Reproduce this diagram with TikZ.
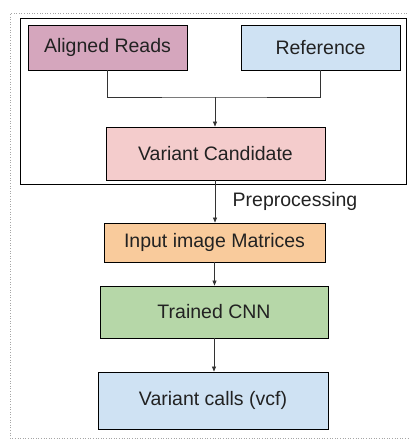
\documentclass[tikz,border=0pt]{standalone}
\usepackage{fontspec}
\setmainfont{Liberation Sans}
\usetikzlibrary{arrows.meta}
\definecolor{readsfill}{HTML}{D5A6BD}
\definecolor{blueish}{HTML}{CFE2F3}
\definecolor{candfill}{HTML}{F4CCCC}
\definecolor{matfill}{HTML}{F9CB9C}
\definecolor{cnnfill}{HTML}{B6D7A8}
\definecolor{inkgrey}{HTML}{222222}
\begin{document}
\begin{tikzpicture}[x=1pt,y=-1pt,
  stage/.style={draw=black, line width=0.9pt, inner sep=0pt, text=inkgrey,
    font=\fontsize{19.5}{22}\selectfont},
  link/.style={draw=black!80, line width=0.7pt},
  flow/.style={link, -{Triangle[length=5pt,width=4pt]}}]
  \useasboundingbox (0,0) rectangle (408,445);
  % dotted page frame (right side runs past the edge)
  \draw[gray!70, line width=0.6pt, dotted] (412,13) -- (10,13) -- (10,438) -- (412,438);
  % frame around the candidate-generation step
  \draw[black, line width=0.8pt] (20,18) rectangle (406,184);

  \node[stage, fill=readsfill, minimum width=159pt, minimum height=45pt] (ar) at (107.5,47.5) {Aligned Reads};
  \node[stage, fill=blueish, minimum width=159pt, minimum height=45pt] (ref) at (320.5,47.5) {Reference};
  \node[stage, fill=candfill, minimum width=219pt, minimum height=53pt] (vc) at (215.5,153.5) {Variant Candidate};
  \node[stage, fill=matfill, minimum width=221pt, minimum height=39pt] (iim) at (214.5,242.5) {Input image Matrices};
  \node[stage, fill=cnnfill, minimum width=228pt, minimum height=52pt] (cnn) at (214,312) {Trained CNN};
  \node[stage, fill=blueish, minimum width=230pt, minimum height=57pt] (out) at (213,400.5) {Variant calls (vcf)};

  \coordinate (join) at (215,97);
  \draw[link] (ar.south) |- (join) -| (ref.south);
  \draw[flow] (join) -- (join |- vc.north);
  \draw[flow] (join |- vc.south) -- (join |- iim.north)
    node[midway, right=14pt, text=inkgrey, font=\fontsize{19.5}{22}\selectfont] (pre) {Preprocessing};
  \draw[flow] (iim.south) -- (iim.south |- cnn.north);
  \draw[flow] (cnn.south) -- (cnn.south |- out.north);
\end{tikzpicture}
\end{document}
